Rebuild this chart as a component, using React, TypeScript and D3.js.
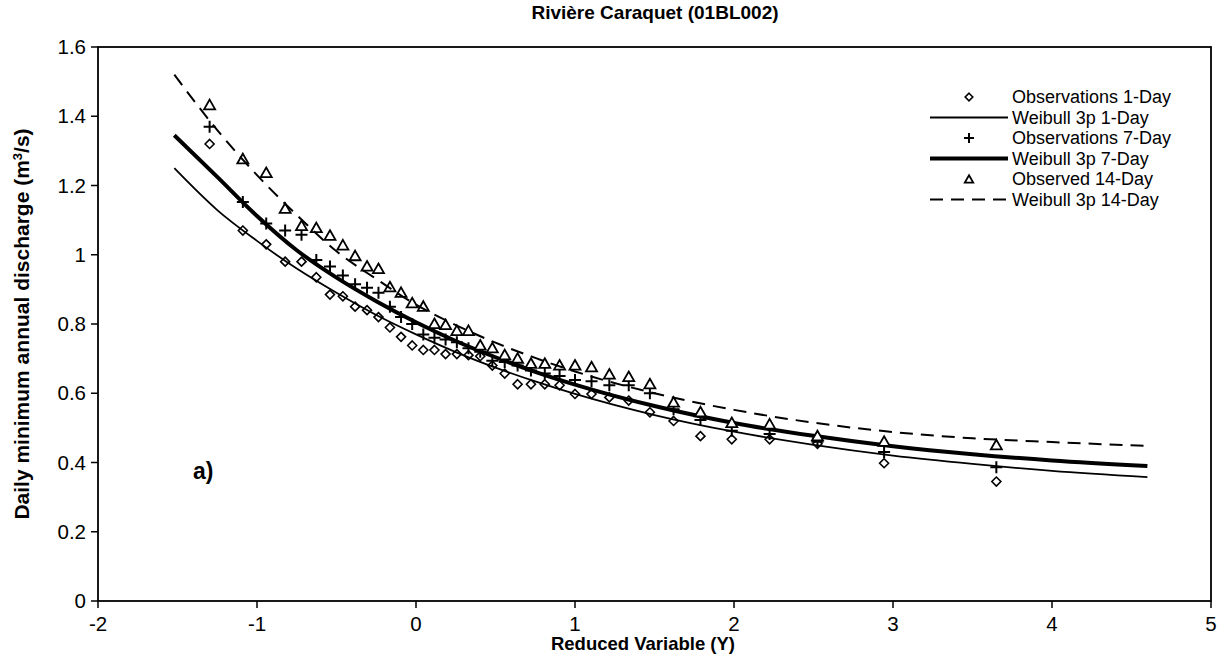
import React from 'react';
import * as d3 from 'd3';

const reducedY = [-1.298, -1.089, -0.942, -0.823, -0.72, -0.627, -0.541, -0.46, -0.383, -0.308, -0.236, -0.164, -0.094, -0.024, 0.046, 0.116, 0.186, 0.257, 0.33, 0.404, 0.48, 0.558, 0.639, 0.723, 0.81, 0.903, 1.0, 1.104, 1.216, 1.338, 1.471, 1.62, 1.789, 1.986, 2.224, 2.525, 2.944, 3.65];
const obs1Day = [1.32, 1.07, 1.03, 0.98, 0.98, 0.935, 0.885, 0.88, 0.85, 0.84, 0.82, 0.79, 0.763, 0.738, 0.725, 0.725, 0.713, 0.713, 0.71, 0.707, 0.68, 0.657, 0.626, 0.626, 0.626, 0.623, 0.598, 0.598, 0.588, 0.579, 0.545, 0.52, 0.476, 0.467, 0.467, 0.454, 0.398, 0.345];
const obs7Day = [1.37, 1.152, 1.09, 1.07, 1.058, 0.985, 0.966, 0.94, 0.915, 0.905, 0.89, 0.85, 0.82, 0.8, 0.77, 0.76, 0.755, 0.747, 0.73, 0.72, 0.694, 0.69, 0.68, 0.666, 0.657, 0.65, 0.638, 0.635, 0.623, 0.623, 0.6, 0.554, 0.523, 0.492, 0.482, 0.46, 0.43, 0.386];
const obs14Day = [1.432, 1.276, 1.236, 1.133, 1.083, 1.077, 1.055, 1.027, 0.996, 0.966, 0.959, 0.906, 0.89, 0.86, 0.85, 0.8, 0.797, 0.78, 0.78, 0.738, 0.73, 0.71, 0.7, 0.685, 0.685, 0.68, 0.68, 0.675, 0.654, 0.647, 0.626, 0.573, 0.545, 0.514, 0.51, 0.476, 0.46, 0.45];

const curveX = [-1.52, -1.25, -1, -0.75, -0.5, -0.25, 0, 0.25, 0.5, 0.75, 1, 1.5, 2, 2.5, 3, 3.5, 4, 4.6];
const weibull1Day = [1.25, 1.129, 1.04, 0.96, 0.89, 0.826, 0.77, 0.719, 0.674, 0.634, 0.598, 0.537, 0.489, 0.451, 0.42, 0.396, 0.376, 0.358];
const weibull7Day = [1.345, 1.225, 1.112, 1.013, 0.934, 0.866, 0.805, 0.751, 0.704, 0.662, 0.625, 0.563, 0.514, 0.477, 0.447, 0.424, 0.406, 0.39];
const weibull14Day = [1.52, 1.36, 1.23, 1.115, 1.01, 0.93, 0.856, 0.797, 0.746, 0.702, 0.663, 0.6, 0.552, 0.515, 0.488, 0.47, 0.459, 0.448];

const xTicks = [-2, -1, 0, 1, 2, 3, 4, 5];
const yTicks = [0, 0.2, 0.4, 0.6, 0.8, 1, 1.2, 1.4, 1.6];

const legendLabels = [
  'Observations 1-Day',
  'Weibull 3p 1-Day',
  'Observations 7-Day',
  'Weibull 3p 7-Day',
  'Observed 14-Day',
  'Weibull 3p 14-Day',
];

const W = 1225;
const H = 654;
const L = 98, R = 1211, T = 47, B = 601;
const FONT = '"Liberation Sans", Arial, sans-serif';

const x = d3.scaleLinear().domain([-2, 5]).range([L, R]);
const y = d3.scaleLinear().domain([0, 1.6]).range([B, T]);

const lineGen = d3.line<[number, number]>()
  .x(d => x(d[0]))
  .y(d => y(d[1]))
  .curve(d3.curveMonotoneX);

const Diamond = ({ cx, cy, r = 4.5 }: any) => (
  <path d={`M${cx},${cy - r}L${cx + r},${cy}L${cx},${cy + r}L${cx - r},${cy}Z`} fill="#fff" stroke="#000" strokeWidth={1.6} />
);
const Plus = ({ cx, cy, r = 6 }: any) => (
  <path d={`M${cx - r},${cy}H${cx + r}M${cx},${cy - r}V${cy + r}`} stroke="#000" strokeWidth={2} fill="none" />
);
const Tri = ({ cx, cy, r = 5.5 }: any) => (
  <path d={`M${cx},${cy - r}L${cx + r},${cy + r * 0.75}L${cx - r},${cy + r * 0.75}Z`} fill="#fff" stroke="#000" strokeWidth={1.8} strokeLinejoin="miter" />
);

export default function App() {
  const pts = (vals: number[]) => reducedY.map((v, i) => [x(v), y(vals[i])]);
  const crv = (vals: number[]) => lineGen(curveX.map((v, i) => [v, vals[i]] as [number, number])) || '';
  const legY0 = 97;
  const legDy = 20.5;
  const lx1 = 930, lx2 = 1008, tx = 1012, mx = 969;

  return (
    <div style={{ position: 'absolute', left: 0, top: 0 }}>
      <svg width={W} height={H} style={{ display: 'block', background: '#fff' }} fontFamily={FONT}>
        <rect x={0} y={0} width={W} height={H} fill="#fff" />
        <text x={655} y={19} textAnchor="middle" fontWeight="bold" fontSize={19}>Rivière Caraquet (01BL002)</text>

        {/* series */}
        {pts(obs1Day).map((p, i) => <Diamond key={'d' + i} cx={p[0]} cy={p[1]} />)}
        <path d={crv(weibull1Day)} fill="none" stroke="#000" strokeWidth={1.8} />
        {pts(obs7Day).map((p, i) => <Plus key={'p' + i} cx={p[0]} cy={p[1]} />)}
        <path d={crv(weibull7Day)} fill="none" stroke="#000" strokeWidth={4} />
        {pts(obs14Day).map((p, i) => <Tri key={'t' + i} cx={p[0]} cy={p[1]} />)}
        <path d={crv(weibull14Day)} fill="none" stroke="#000" strokeWidth={2} strokeDasharray="13,8" />

        {/* frame */}
        <rect x={L} y={T} width={R - L} height={B - T} fill="none" stroke="#000" strokeWidth={1.8} />
        {yTicks.map(t => (
          <g key={'yt' + t}>
            <line x1={L - 7} x2={L} y1={y(t)} y2={y(t)} stroke="#000" strokeWidth={1.5} />
            <text x={L - 12} y={y(t)} dy="0.35em" textAnchor="end" fontSize={20.5}>{t}</text>
          </g>
        ))}
        {xTicks.map(t => (
          <g key={'xt' + t}>
            <line x1={x(t)} x2={x(t)} y1={B} y2={B + 7} stroke="#000" strokeWidth={1.5} />
            <text x={x(t)} y={B + 23} dy="0.35em" textAnchor="middle" fontSize={20.5}>{t}</text>
          </g>
        ))}
        <text x={643} y={650} textAnchor="middle" fontWeight="bold" fontSize={18.5}>Reduced Variable (Y)</text>
        <text transform={`translate(29,${(T + B) / 2}) rotate(-90)`} textAnchor="middle" fontWeight="bold" fontSize={21}>
          Daily minimum annual discharge (m<tspan dy={-7} fontSize={13}>3</tspan><tspan dy={7}>/s)</tspan>
        </text>
        <text x={193} y={479} fontWeight="bold" fontSize={23}>a)</text>

        {/* legend */}
        {legendLabels.map((lab, i) => {
          const ly = legY0 + i * legDy;
          let sym: any = null;
          if (i === 0) sym = <Diamond cx={mx} cy={ly} r={3.8} />;
          if (i === 2) sym = <Plus cx={mx} cy={ly} r={5} />;
          if (i === 4) sym = <Tri cx={mx} cy={ly + 0.5} r={4.2} />;
          if (i === 1) sym = <line x1={lx1} x2={lx2} y1={ly} y2={ly} stroke="#000" strokeWidth={1.8} />;
          if (i === 3) sym = <line x1={lx1} x2={lx2} y1={ly} y2={ly} stroke="#000" strokeWidth={4} />;
          if (i === 5) sym = <line x1={lx1} x2={lx2} y1={ly} y2={ly} stroke="#000" strokeWidth={2} strokeDasharray="13,8" />;
          return (
            <g key={'lg' + i}>
              {sym}
              <text x={tx} y={ly} dy="0.35em" fontSize={18}>{lab}</text>
            </g>
          );
        })}
      </svg>
    </div>
  );
}
